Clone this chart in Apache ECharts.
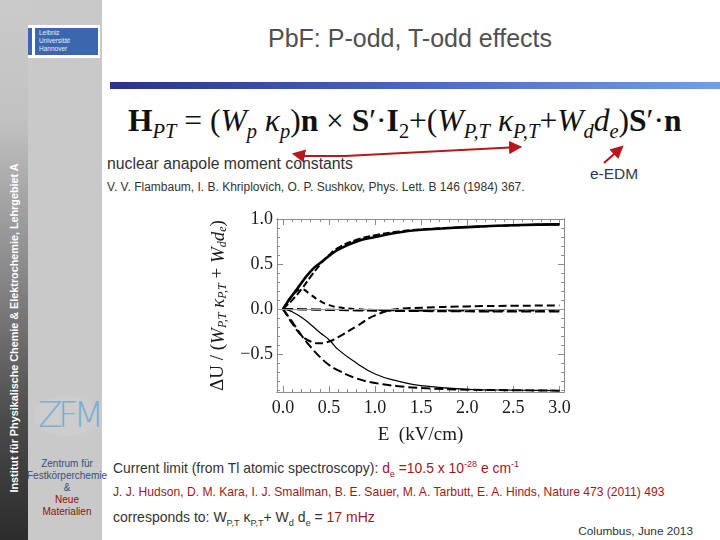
<!DOCTYPE html>
<html>
<head>
<meta charset="utf-8">
<script src="https://cdn.jsdelivr.net/npm/echarts@6/dist/echarts.min.js"></script>
<style>
  html, body { margin: 0; padding: 0; background: #fff; }
  #slide { position: relative; width: 720px; height: 540px; overflow: hidden; font-family: Arial, "Liberation Sans", sans-serif; }
  .abs { position: absolute; white-space: nowrap; }
  .red { color: #a3171b; }
  .serif { font-family: "Liberation Serif", "DejaVu Serif", serif; }
  sub, sup { font-size: 65%; line-height: 0; }
  #chart { position: absolute; left: 0; top: 0; width: 720px; height: 540px; pointer-events: none; }
</style>
</head>
<body>
<div id="slide">
  <!-- left sidebar -->
  <div class="abs" style="left:0;top:0;width:102px;height:540px;background:#c9c9c9;"></div>
  <div class="abs" style="left:3px;top:25px;width:97px;height:33px;background:#fff;"></div>
  <div class="abs" style="left:5px;top:28px;width:27px;height:27px;background:#3a67ad;"></div>
  <div class="abs" style="left:35px;top:28px;width:63px;height:27px;background:#3a67ad;"></div>
  <div class="abs" style="left:39px;top:29px;font-size:6.5px;line-height:8px;color:#e8eef8;">Leibniz<br>Universität<br>Hannover</div>
  <div class="abs" style="left:9px;top:30px;font-size:6px;line-height:8px;color:#e8eef8;">&nbsp;&nbsp;ı ʃ ı<br>ı ɒ ʃ ƶ<br>ı ɒ ı ƨ</div>
  <div class="abs" style="left:34px;top:396px;width:64px;height:40px;border-radius:50%;background:#cdcdcd;"></div>
  <div class="abs" style="left:38px;top:394px;font-size:36px;font-weight:100;color:#7ab0d4;letter-spacing:-5px;font-family:'DejaVu Sans', sans-serif;">ZFM</div>
  <div class="abs" style="left:22px;top:458px;width:90px;text-align:center;font-size:10px;line-height:12px;color:#35507a;">Zentrum für<br>Festkörperchemie<br>&amp;<br><span style="color:#8c1010;">Neue<br>Materialien</span></div>
  <div class="abs" style="left:0;top:0;width:28px;height:540px;background:linear-gradient(to bottom,#cacaca 0%,#c2c2c2 22%,#8a8a8a 50%,#4a4a4a 78%,#2c2c2c 100%);"></div>
  <div class="abs" style="left:-176px;top:320px;width:380px;height:16px;line-height:16px;transform:rotate(-90deg);color:#fff;font-weight:bold;font-size:10.8px;text-align:center;">Institut für Physikalische Chemie &amp; Elektrochemie, Lehrgebiet A</div>

  <!-- header -->
  <div class="abs" style="left:110px;top:24px;width:600px;text-align:center;font-size:25px;color:#505050;">PbF: P-odd, T-odd effects</div>
  <div class="abs" style="left:110px;top:82px;width:610px;height:7px;background:linear-gradient(to right,#2a3190,#4d6ccc 55%,#6f9fea);"></div>

  <!-- formula -->
  <div class="abs serif" style="left:128px;top:103px;font-size:31.5px;color:#111;letter-spacing:0px;">
    <b>H</b><sub><i>PT</i></sub> = (<i>W</i><sub><i>p</i></sub> <i>κ</i><sub><i>p</i></sub>)<b>n</b> × <b>S</b>′·<b>I</b><sub>2</sub>+(<i>W</i><sub><i>P,T</i></sub> <i>κ</i><sub><i>P,T</i></sub>+<i>W</i><sub><i>d</i></sub><i>d</i><sub><i>e</i></sub>)<b>S</b>′·<b>n</b>
  </div>
  <svg class="abs" style="left:0;top:0;" width="720" height="540">
    <defs>
      <marker id="ah" markerWidth="6" markerHeight="6" refX="5" refY="3" orient="auto-start-reverse">
        <path d="M0,0 L6,3 L0,6 z" fill="#b8161b"/>
      </marker>
    </defs>
    <polyline points="294,154 305,156 345,156 520,147" fill="none" stroke="#b8161b" stroke-width="2.2" marker-start="url(#ah)" marker-end="url(#ah)"/>
    <line x1="604" y1="163" x2="622" y2="147" stroke="#b8161b" stroke-width="2.2" marker-end="url(#ah)"/>
  </svg>
  <div class="abs" style="left:107px;top:155px;font-size:15.8px;color:#333;">nuclear anapole moment constants</div>
  <div class="abs" style="left:107px;top:180px;font-size:12px;color:#333;">V. V. Flambaum, I. B. Khriplovich, O. P. Sushkov, Phys. Lett. B 146 (1984) 367.</div>
  <div class="abs" style="left:590px;top:165px;font-size:15.5px;color:#2a3a52;">e-EDM</div>

  <!-- bottom text -->
  <div class="abs" style="left:113px;top:460px;font-size:13.9px;color:#333;">Current limit (from Tl atomic spectroscopy): <span class="red">d<sub>e</sub> =10.5 x 10<sup>-28</sup> e cm<sup>-1</sup></span></div>
  <div class="abs red" style="left:113px;top:485px;font-size:12.1px;">J. J. Hudson, D. M. Kara, I. J. Smallman, B. E. Sauer, M. A. Tarbutt, E. A. Hinds, Nature 473 (2011) 493</div>
  <div class="abs" style="left:113px;top:509px;font-size:14px;color:#333;">corresponds to: W<sub>P,T</sub> κ<sub>P,T</sub>+ W<sub>d</sub> d<sub>e</sub> = <span class="red">17 mHz</span></div>
  <div class="abs" style="right:27px;top:524px;font-size:11.8px;color:#333;">Columbus, June 2013</div>

  <div id="chart"></div>
</div>
<script>
// field strength E (kV/cm) at which the curves were read
const eVals = [0, 0.05, 0.1, 0.2, 0.3, 0.4, 0.5, 0.6, 0.8, 1.0, 1.25, 1.5, 2.0, 2.5, 3.0];
// Delta U / (W_PT k_PT + W_d d_e) for each level pair
const upperSolid  = [0, 0.08, 0.15, 0.29, 0.42, 0.51, 0.59, 0.66, 0.75, 0.80, 0.85, 0.88, 0.91, 0.93, 0.94];
const upperDashed = [0, 0.05, 0.10, 0.22, 0.36, 0.49, 0.60, 0.68, 0.77, 0.82, 0.86, 0.885, 0.91, 0.93, 0.94];
const peakDashed  = [0, 0.08, 0.15, 0.22, 0.16, 0.09, 0.045, 0.02, 0.0, -0.01, -0.014, -0.015, -0.015, -0.015, -0.015];
const flatDashed  = [0, 0, 0, -0.002, -0.004, -0.006, -0.008, -0.01, -0.013, -0.016, -0.019, -0.021, -0.024, -0.025, -0.026];
const dipDashed   = [0, -0.08, -0.16, -0.29, -0.36, -0.38, -0.36, -0.31, -0.19, -0.07, 0.0, 0.015, 0.03, 0.037, 0.04];
const lowerSolid  = [0, -0.01, -0.03, -0.09, -0.17, -0.26, -0.34, -0.45, -0.60, -0.72, -0.80, -0.85, -0.89, -0.90, -0.905];
const lowerDashed = [0, -0.07, -0.14, -0.29, -0.42, -0.53, -0.62, -0.68, -0.77, -0.82, -0.855, -0.875, -0.895, -0.90, -0.905];

const xMajor = [0, 0.5, 1.0, 1.5, 2.0, 2.5, 3.0];
const yMajor = [-0.5, 0, 0.5, 1.0];
const xMinor = [], yMinor = [];
for (let i = 0; i <= 30; i++) xMinor.push(+(i * 0.1).toFixed(1));
for (let i = -9; i <= 10; i++) yMinor.push(+(i * 0.1).toFixed(1));

const X_MIN = -0.065, X_MAX = 3.05, Y_MIN = -0.92, Y_MAX = 1.0;
const serif = 'Liberation Serif';

function xAx(pos, ticks, len, withLabel) {
  return {
    type: 'value', min: X_MIN, max: X_MAX, position: pos,
    axisLine: { show: true, onZero: false, lineStyle: { color: '#8c8c8c', width: 1 } },
    splitLine: { show: false },
    axisTick: { show: true, inside: true, length: len, customValues: ticks, lineStyle: { color: '#8c8c8c' } },
    axisLabel: withLabel ? { customValues: ticks, formatter: v => v.toFixed(1), fontFamily: serif, fontSize: 18, color: '#1a1a1a', margin: 7 } : { show: false }
  }
}
function yAx(pos, ticks, len, withLabel) {
  return {
    type: 'value', min: Y_MIN, max: Y_MAX, position: pos,
    axisLine: { show: true, onZero: false, lineStyle: { color: '#8c8c8c', width: 1 } },
    splitLine: { show: false },
    axisTick: { show: true, inside: true, length: len, customValues: ticks, lineStyle: { color: '#8c8c8c' } },
    axisLabel: withLabel ? { customValues: ticks, formatter: v => (v < 0 ? '\u2212' + Math.abs(v).toFixed(1) : v.toFixed(1)), fontFamily: serif, fontSize: 18, color: '#1a1a1a', margin: 4 } : { show: false }
  }
}

const xBottom = xAx('bottom', xMajor, 6, true);
xBottom.name = 'E  (kV/cm)';
xBottom.nameLocation = 'middle';
xBottom.nameGap = 34;
xBottom.nameTextStyle = { fontFamily: serif, fontSize: 19, color: '#1a1a1a' };

const yLeft = yAx('left', yMajor, 6, true);
yLeft.name = '{n|\u0394U / (}{i|W}{s|P,T}{n| }{i|\u03ba}{s|P,T}{n| + }{i|W}{s|d}{i|d}{s|e}{n|)}';
yLeft.nameLocation = 'middle';
yLeft.nameRotate = 90;
yLeft.nameGap = 48;
yLeft.nameTextStyle = {
  fontFamily: serif, fontSize: 19, color: '#1a1a1a',
  rich: {
    n: { fontFamily: serif, fontSize: 19, color: '#1a1a1a' },
    i: { fontFamily: serif, fontSize: 19, fontStyle: 'italic', color: '#1a1a1a' },
    s: { fontFamily: serif, fontSize: 12, fontStyle: 'italic', color: '#1a1a1a', padding: [9, 0, 0, 0] }
  }
};

function curve(vals, width, type) {
  return {
    type: 'line', smooth: true, showSymbol: false, silent: true,
    xAxisIndex: 0, yAxisIndex: 0,
    data: eVals.map((e, i) => [e, vals[i]]),
    lineStyle: { color: '#000', width: width, type: type }
  };
}

const series = [
  curve(upperSolid, 2.6, 'solid'),
  curve(upperDashed, 2, [7, 3]),
  curve(peakDashed, 2, [6, 4]),
  curve(flatDashed, 2.2, [10, 4]),
  curve(dipDashed, 2, [8, 4]),
  curve(lowerSolid, 1.2, 'solid'),
  curve(lowerDashed, 2, [9, 4])
];
series[3].markLine = {
  silent: true, symbol: 'none', label: { show: false },
  lineStyle: { color: '#999', width: 1, type: 'solid' },
  data: [{ yAxis: 0 }]
};

const chart = echarts.init(document.getElementById('chart'), null, { renderer: 'canvas' });
chart.setOption({
  animation: false,
  backgroundColor: 'transparent',
  grid: { left: 277, top: 219, width: 287, height: 173, containLabel: false },
  xAxis: [xBottom, xAx('bottom', xMinor, 3, false), xAx('top', xMajor, 6, false), xAx('top', xMinor, 3, false)],
  yAxis: [yLeft, yAx('left', yMinor, 3, false), yAx('right', yMajor, 6, false), yAx('right', yMinor, 3, false)],
  series: series
});
</script>
</body>
</html>
